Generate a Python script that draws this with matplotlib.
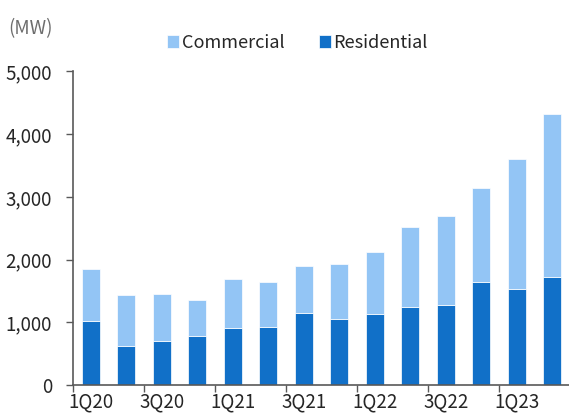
import matplotlib
matplotlib.use("Agg")
import matplotlib.pyplot as plt
import numpy as np

plt.rcParams['font.family'] = ['Noto Sans CJK KR', 'DejaVu Sans']

quarters = ["1Q20", "2Q20", "3Q20", "4Q20", "1Q21", "2Q21", "3Q21", "4Q21",
            "1Q22", "2Q22", "3Q22", "4Q22", "1Q23", "2Q23"]
residential = [1020, 622, 702, 787, 914, 930, 1148, 1053,
               1127, 1239, 1276, 1638, 1526, 1718]
total = [1850, 1435, 1446, 1356, 1686, 1638, 1898, 1925,
         2126, 2515, 2701, 3136, 3610, 4322]
commercial = [t - r for t, r in zip(total, residential)]
yticks = [0, 1000, 2000, 3000, 4000, 5000]

c_res = "#1170c8"
c_com = "#93c5f5"
axis_c = "#595959"
text_c = "#262626"

fig = plt.figure(figsize=(5.69, 4.16), dpi=100)
ax = fig.add_axes([0.128, 0.0745, 0.874, 0.754])

x = np.arange(len(quarters))
w = 0.51
ax.bar(x, residential, w, color=c_res, edgecolor="#ffffff", linewidth=0.5,
       label="Residential", zorder=2)
ax.bar(x, commercial, w, bottom=residential, color=c_com, edgecolor="#ffffff",
       linewidth=0.5, label="Commercial", zorder=2)

ax.set_xlim(-0.5, len(quarters) - 0.5)
ax.set_ylim(0, 5000)
ax.set_yticks(yticks)
ax.set_yticklabels([f"{v:,}" for v in yticks], fontweight="light")

# category-boundary ticks every two quarters, labels centred under every other bar
ax.set_xticks(np.arange(-0.5, len(quarters), 2))
ax.set_xticklabels([])
ax.set_xticks(x[::2], minor=True)
ax.set_xticklabels(quarters[::2], minor=True, fontweight="light")
ax.tick_params(axis="x", which="minor", length=0, pad=5)
ax.tick_params(axis="x", which="major", length=5, width=1, color=axis_c)
ax.tick_params(axis="y", length=5, width=1, color=axis_c, pad=10)
ax.tick_params(labelsize=13.5, labelcolor=text_c, which="both")

for s in ["top", "right"]:
    ax.spines[s].set_visible(False)
for s in ["left", "bottom"]:
    ax.spines[s].set_color(axis_c)
    ax.spines[s].set_linewidth(1.2)

fig.text(0.014, 0.93, "(MW)", fontsize=13.5, color="#6e6e6e", va="center", ha="left",
         fontweight="light")

handles, labels = ax.get_legend_handles_labels()
fig.legend(handles[::-1], labels[::-1], loc="center", bbox_to_anchor=(0.523, 0.897),
           ncol=2, frameon=False, handlelength=0.65, handleheight=0.7,
           handletextpad=0.15, columnspacing=1.9, labelcolor=text_c,
           prop={"size": 13, "weight": "light"})

fig.savefig("out.png", dpi=100)
